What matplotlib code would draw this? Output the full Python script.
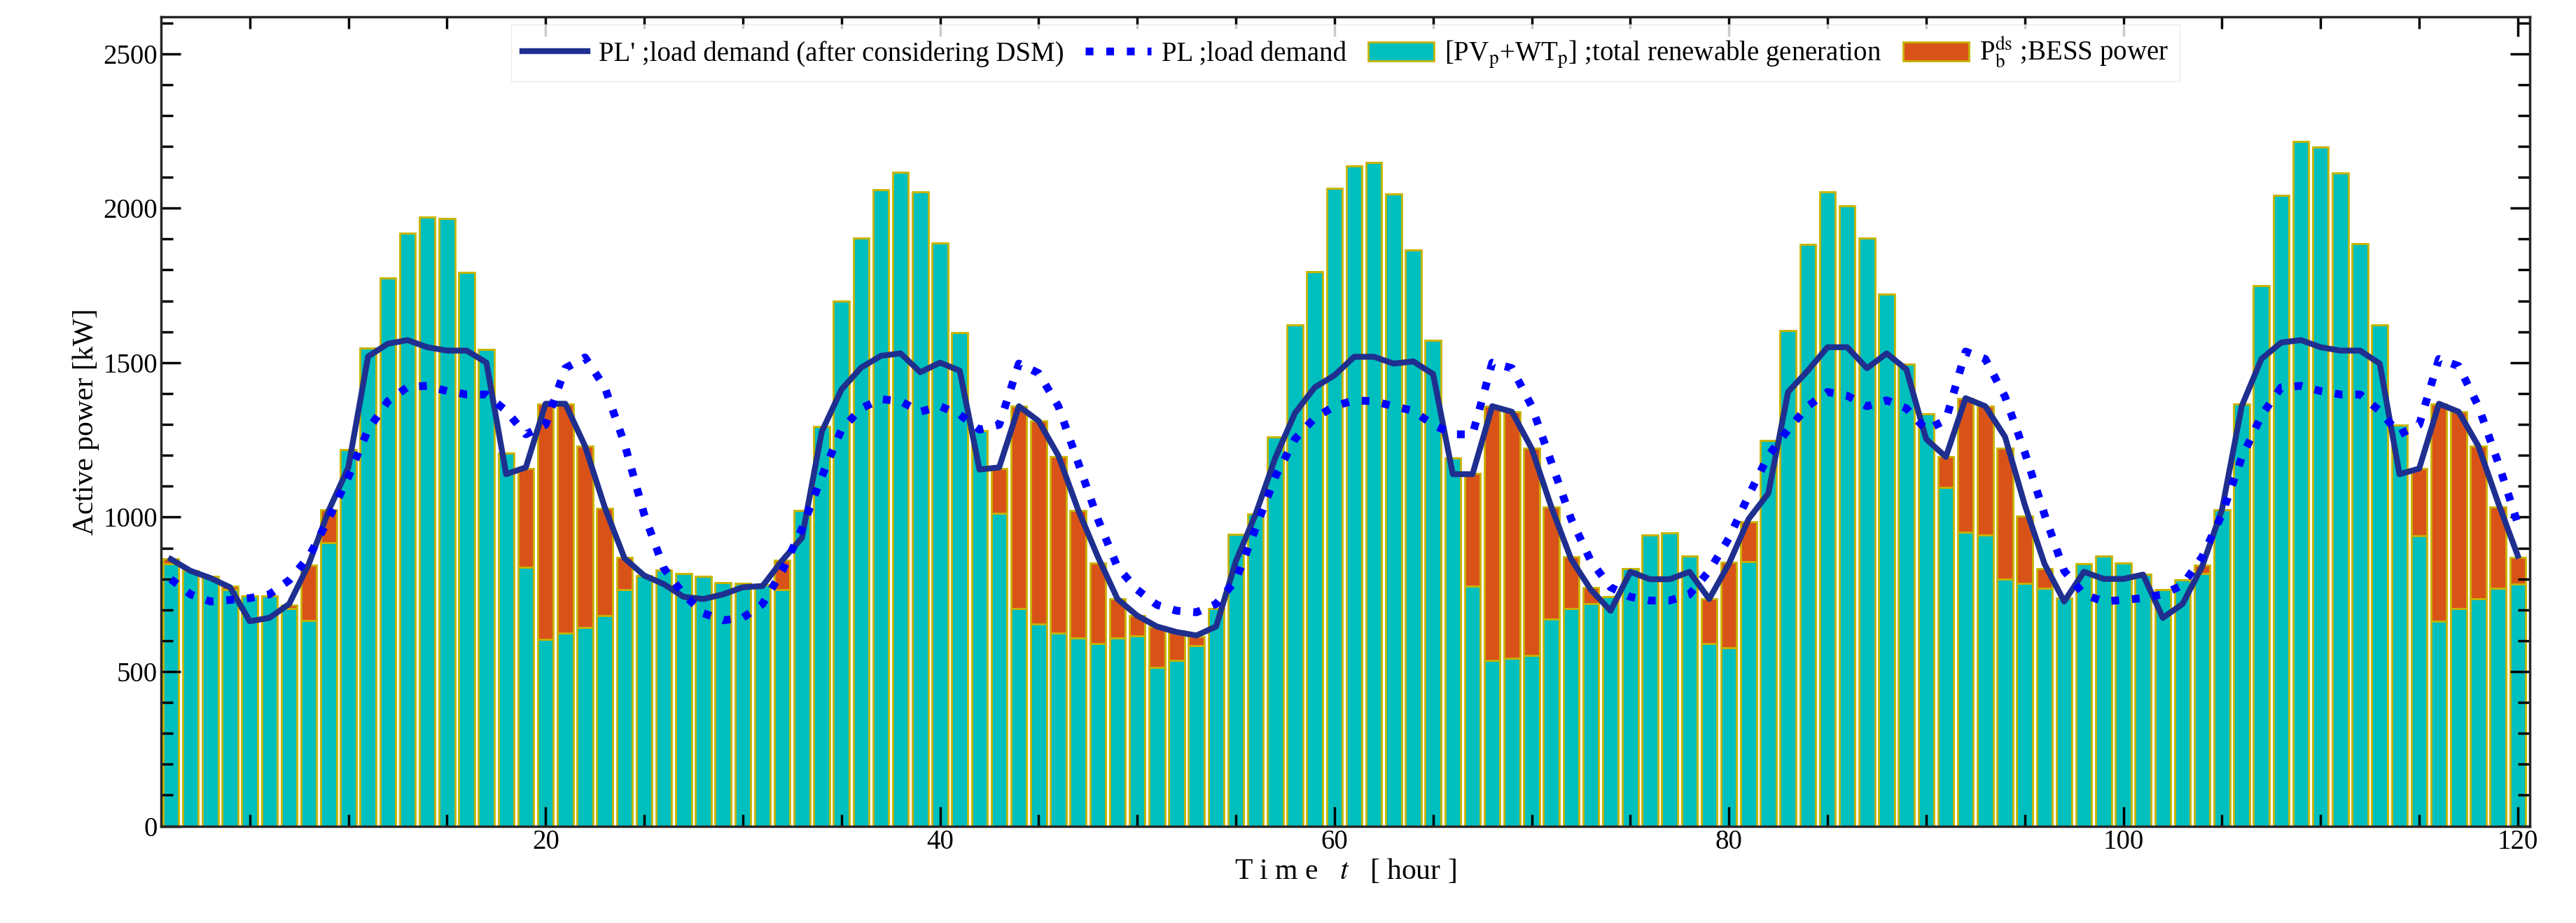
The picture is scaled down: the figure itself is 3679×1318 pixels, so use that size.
import numpy as np
import matplotlib
matplotlib.use('Agg')
from matplotlib import pyplot as plt
from matplotlib.ticker import MultipleLocator

hours = np.arange(1, 121)

# total renewable generation (PV + WT) [kW]
renew = [850, 826, 808, 765, 745, 745, 704, 666, 918, 1218,
         1547, 1773, 1919, 1972, 1966, 1791, 1542, 1207, 837, 605,
         625, 643, 681, 765, 811, 829, 818, 808, 788, 785,
         780, 765, 1021, 1294, 1699, 1903, 2060, 2117, 2053, 1888,
         1596, 1279, 1012, 704, 654, 625, 608, 590, 608, 616,
         514, 536, 585, 704, 945, 1009, 1260, 1623, 1794, 2063,
         2137, 2147, 2045, 1865, 1573, 1192, 776, 536, 544, 552,
         669, 704, 719, 742, 834, 943, 948, 875, 590, 578,
         857, 1248, 1603, 1882, 2053, 2007, 1903, 1721, 1494, 1334,
         1097, 951, 943, 800, 785, 770, 739, 849, 875, 852,
         814, 765, 796, 818, 1024, 1367, 1748, 2041, 2216, 2198,
         2114, 1885, 1623, 1298, 940, 663, 704, 735, 770, 783]

# BESS discharge power [kW]
bess = [15, 0, 0, 12, 0, 0, 12, 178, 106, 0,
        0, 0, 0, 0, 0, 0, 0, 0, 321, 762,
        742, 587, 348, 104, 0, 0, 0, 0, 0, 0,
        0, 95, 0, 0, 0, 0, 0, 0, 0, 0,
        0, 0, 146, 654, 657, 570, 413, 262, 127, 65,
        132, 95, 28, 0, 0, 0, 0, 0, 0, 0,
        0, 0, 0, 0, 0, 0, 365, 823, 797, 670,
        363, 168, 54, 0, 0, 0, 0, 0, 145, 275,
        129, 0, 0, 0, 0, 0, 0, 0, 0, 0,
        98, 434, 416, 422, 219, 64, 0, 0, 0, 0,
        0, 0, 0, 26, 0, 0, 0, 0, 0, 0,
        0, 0, 0, 0, 218, 704, 637, 495, 262, 86]

# load demand after DSM [kW]
pl_dsm = [864, 826, 803, 773, 663, 674, 719, 849, 1021, 1161,
          1520, 1561, 1573, 1550, 1539, 1539, 1500, 1139, 1161, 1367,
          1367, 1230, 1032, 867, 811, 783, 742, 735, 750, 773,
          777, 860, 933, 1276, 1413, 1484, 1522, 1530, 1469, 1500,
          1474, 1154, 1161, 1359, 1311, 1199, 1024, 872, 735, 681,
          646, 628, 617, 646, 857, 1009, 1192, 1337, 1420, 1459,
          1519, 1519, 1497, 1504, 1463, 1139, 1139, 1359, 1341, 1222,
          1032, 864, 765, 697, 823, 799, 799, 823, 735, 849,
          994, 1077, 1405, 1474, 1550, 1550, 1482, 1530, 1478, 1253,
          1195, 1385, 1359, 1260, 1040, 849, 727, 823, 800, 800,
          814, 674, 719, 841, 1024, 1359, 1512, 1565, 1573, 1550,
          1539, 1539, 1497, 1139, 1157, 1367, 1341, 1230, 1047, 875]

# original load demand [kW]
pl = [799, 750, 727, 732, 738, 750, 796, 872, 994, 1131,
      1283, 1375, 1421, 1425, 1408, 1397, 1397, 1344, 1268, 1299,
      1482, 1517, 1421, 1238, 1009, 834, 750, 689, 666, 674,
      719, 826, 963, 1131, 1283, 1352, 1382, 1375, 1341, 1359,
      1332, 1283, 1299, 1497, 1466, 1359, 1177, 994, 838, 765,
      716, 697, 692, 719, 796, 963, 1131, 1253, 1321, 1359,
      1378, 1375, 1359, 1344, 1299, 1268, 1268, 1500, 1482, 1359,
      1177, 994, 858, 773, 742, 730, 730, 750, 826, 932,
      1070, 1199, 1283, 1359, 1405, 1393, 1359, 1378, 1352, 1283,
      1314, 1536, 1512, 1390, 1210, 1009, 826, 750, 727, 732,
      738, 750, 780, 872, 1009, 1192, 1329, 1420, 1425, 1408,
      1397, 1397, 1344, 1268, 1299, 1512, 1489, 1359, 1177, 979]

plt.rcParams['font.family'] = 'Liberation Serif'
plt.rcParams['mathtext.fontset'] = 'stix'
plt.rcParams['font.size'] = 26

fig = plt.figure(figsize=(36.79, 13.18), dpi=100)
ax = fig.add_axes([0.0625, 0.105, 0.9195, 0.877])

ax.bar(hours, renew, width=0.8, color='#00BFBF', edgecolor='#C8B400', linewidth=2,
       label=r'[PV$_\mathrm{p}$+WT$_\mathrm{p}$] ;total renewable generation')
ax.bar(hours, bess, width=0.8, bottom=renew, color='#D95319', edgecolor='#C8B400', linewidth=2,
       label=r'P$_\mathrm{b}^\mathrm{ds}$ ;BESS power')
ax.plot(hours, pl_dsm, color='#1F2F8F', linewidth=6, label="PL' ;load demand (after considering DSM)")
ax.plot(hours, pl, color='#0000FF', linewidth=8, linestyle=':', label='PL ;load demand')

ax.set_xlim(0.5, 120.6)
ax.set_ylim(0, 2620)
ax.xaxis.set_major_locator(MultipleLocator(20))
ax.xaxis.set_minor_locator(MultipleLocator(5))
ax.yaxis.set_major_locator(MultipleLocator(500))
ax.yaxis.set_minor_locator(MultipleLocator(100))
ax.tick_params(which='both', direction='in', top=True, right=True, width=2.5, labelsize=28)
ax.tick_params(which='major', length=20)
ax.tick_params(which='minor', length=12)
for s in ax.spines.values():
    s.set_linewidth(2.5)
    s.set_color('#262626')

ax.set_ylabel('Active power [kW]', fontsize=30)
ax.set_xlabel(r'T i m e   $t$   [ hour ]', fontsize=30, labelpad=2)

leg = ax.legend(loc='upper center', ncol=4, fontsize=28, frameon=True, fancybox=False,
                edgecolor='#E6E6E6', borderaxespad=0.3, handlelength=2.4,
                columnspacing=0.8, handletextpad=0.4, bbox_to_anchor=(0.5, 1.0))

fig.savefig('out.png', dpi=100)
